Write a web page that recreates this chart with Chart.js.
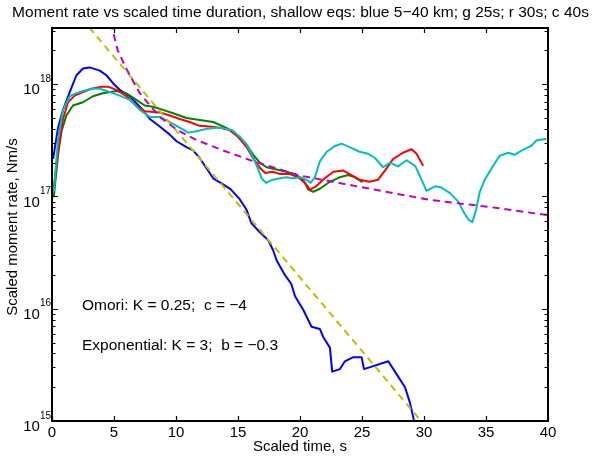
<!DOCTYPE html>
<html lang="en">
<head>
<meta charset="UTF-8" />
<title>Moment rate vs scaled time duration</title>
<script src="https://cdn.jsdelivr.net/npm/chart.js"></script>
<style>
  html, body { margin: 0; padding: 0; background: #fff; }
  #wrap { width: 601px; height: 458px; }
</style>
</head>
<body>
<div id="wrap"><canvas id="chart" width="601" height="458"></canvas></div>
<script>
// blue: 5-40 km
const blueT = [0.1, 0.49, 0.89, 1.43, 1.97, 2.5, 3.04, 3.85, 4.39, 4.92, 5.46, 6.27, 7.08, 7.89, 8.69, 9.5, 10.04, 10.85, 11.38, 11.92, 12.46, 13.0, 13.7, 14.4, 15.15, 15.69, 16.09, 16.76, 17.43, 17.84, 18.11, 18.78, 19.3, 19.6, 20.26, 20.93, 21.6, 21.87, 22.41, 22.6, 23.22, 23.62, 24.3, 24.97, 25.16, 27.12, 27.8, 28.47, 28.87, 29.2, 29.4];
const blueM = [2.2e17, 4.1e17, 5.9e17, 8.5e17, 1.2e18, 1.38e18, 1.41e18, 1.32e18, 1.2e18, 1.02e18, 8.9e17, 7.8e17, 6.3e17, 4.9e17, 4.2e17, 3.55e17, 3.1e17, 2.75e17, 2.57e17, 2.19e17, 1.78e17, 1.45e17, 1.3e17, 1.16e17, 9.4e16, 7.6e16, 5.75e16, 4.8e16, 4.1e16, 3.3e16, 2.7e16, 2.0e16, 1.66e16, 1.29e16, 9.8e15, 6.9e15, 6.6e15, 5.6e15, 4.5e15, 2.75e15, 2.9e15, 3.4e15, 3.7e15, 3.7e15, 2.9e15, 3.4e15, 2.6e15, 2.0e15, 1.45e15, 1.0e15, 8e14];

// green: 25 s
const greenT = [0.15, 0.49, 0.76, 1.16, 1.69, 2.5, 3.3, 4.1, 5.2, 6.0, 6.8, 7.48, 8.15, 8.96, 9.77, 10.85, 11.92, 13.0, 13.8, 14.6, 15.15, 15.69, 16.22, 16.76, 17.3, 18.1, 18.92, 19.59, 20.26, 20.66, 21.07, 21.6, 22.41, 23.2, 23.9, 24.43, 25.0];
const greenM = [1.0e17, 2.35e17, 3.8e17, 5.25e17, 6.45e17, 6.9e17, 7.8e17, 8.3e17, 8.7e17, 8.3e17, 7.25e17, 6.45e17, 6.3e17, 5.9e17, 5.5e17, 5.0e17, 4.8e17, 4.6e17, 4.2e17, 3.8e17, 3.3e17, 2.9e17, 2.35e17, 2.0e17, 1.82e17, 1.74e17, 1.66e17, 1.58e17, 1.41e17, 1.15e17, 1.1e17, 1.17e17, 1.35e17, 1.48e17, 1.55e17, 1.48e17, 1.35e17];

// red: 30 s
const redT = [0.15, 0.49, 0.89, 1.29, 1.83, 2.5, 3.18, 3.99, 4.52, 5.2, 6.0, 6.8, 7.48, 8.7, 9.5, 10.3, 11.1, 11.9, 12.7, 13.5, 14.3, 15.0, 15.7, 16.2, 16.8, 17.2, 17.8, 18.4, 19.2, 19.85, 20.4, 20.8, 21.3, 22.0, 22.7, 23.5, 24.0, 24.8, 25.6, 26.3, 26.85, 27.5, 28.3, 29.0, 29.4, 29.9];
const redM = [1.23e17, 2.5e17, 4.9e17, 6.9e17, 7.9e17, 8.5e17, 9.1e17, 9.5e17, 9.5e17, 8.9e17, 7.8e17, 6.45e17, 5.75e17, 5.6e17, 5.25e17, 4.9e17, 4.6e17, 4.25e17, 4.2e17, 4.1e17, 3.9e17, 3.4e17, 2.75e17, 2.2e17, 1.78e17, 1.62e17, 1.66e17, 1.58e17, 1.58e17, 1.48e17, 1.32e17, 1.15e17, 1.23e17, 1.45e17, 1.66e17, 1.7e17, 1.58e17, 1.41e17, 1.35e17, 1.41e17, 1.7e17, 2.15e17, 2.45e17, 2.63e17, 2.4e17, 1.9e17];

// cyan: 40 s
const cyanT = [0.15, 0.49, 0.89, 1.43, 1.97, 2.5, 3.18, 3.85, 4.66, 5.46, 6.27, 7.08, 7.9, 8.7, 9.5, 10.3, 11.0, 11.65, 12.5, 13.5, 14.5, 15.15, 15.7, 16.2, 16.6, 16.9, 17.25, 17.8, 18.4, 18.9, 19.45, 20.1, 20.5, 20.85, 21.2, 21.6, 22.15, 22.8, 23.35, 24.0, 24.8, 25.5, 26.05, 26.7, 27.25, 27.9, 28.6, 29.3, 29.8, 30.2, 30.9, 31.4, 32.1, 32.8, 33.2, 33.6, 33.9, 34.2, 34.5, 34.9, 35.5, 36.1, 36.8, 37.3, 37.9, 38.6, 39.1, 39.8];
const cyanM = [1.12e17, 3.3e17, 5.9e17, 7.8e17, 8.3e17, 8.7e17, 9.1e17, 9.1e17, 8.5e17, 7.9e17, 7.25e17, 5.9e17, 5.1e17, 5.1e17, 4.6e17, 4.1e17, 3.7e17, 3.8e17, 4.0e17, 4.1e17, 3.9e17, 3.4e17, 2.9e17, 2.25e17, 1.78e17, 1.45e17, 1.32e17, 1.41e17, 1.45e17, 1.48e17, 1.45e17, 1.48e17, 1.41e17, 1.32e17, 1.48e17, 2.05e17, 2.5e17, 2.8e17, 2.95e17, 2.75e17, 2.5e17, 2.4e17, 2.2e17, 1.82e17, 2.0e17, 1.85e17, 2.1e17, 1.86e17, 1.41e17, 1.12e17, 1.23e17, 1.2e17, 1.07e17, 8.9e16, 7.25e16, 6.2e16, 5.9e16, 7.6e16, 1.1e17, 1.41e17, 1.82e17, 2.3e17, 2.45e17, 2.35e17, 2.57e17, 2.8e17, 3.16e17, 3.24e17];

// exponential fit (yellow dashed) - straight on log axis
const expT = [3.0, 30.0];
const expM = [3.2e18, 9.3e14];

// Omori fit (magenta dashed)
const omoriT = [4.6, 4.9, 5.3, 6.03, 7.08, 8.69, 10.1, 11.7, 13.8, 16.0, 19.8, 25.1, 30.5, 35.9, 40.0];
const omoriM = [4.5e18, 3.0e18, 2.0e18, 1.35e18, 8.3e17, 5.1e17, 3.9e17, 3.16e17, 2.57e17, 2.1e17, 1.55e17, 1.2e17, 9.3e16, 7.9e16, 6.8e16];

const xTicks = [0, 5, 10, 15, 20, 25, 30, 35, 40];
const yTickExp = [15, 16, 17, 18];

const titleText = 'Moment rate vs scaled time duration, shallow eqs: blue 5\u221240 km; g 25s; r 30s; c 40s';
const xTitle = 'Scaled time, s';
const yTitle = 'Scaled moment rate, Nm/s';
const notes = ['Omori: K = 0.25;  c = \u22124', 'Exponential: K = 3;  b = \u22120.3'];

const pts = (ts, ms) => ts.map((t, i) => ({ x: t, y: ms[i] }));
const FONT = '"Liberation Sans", Arial, Helvetica, sans-serif';

function line(label, ts, ms, color, order, dash) {
  return {
    label, data: pts(ts, ms), borderColor: color, backgroundColor: color,
    borderWidth: 2, pointRadius: 0, tension: 0, order,
    borderDash: dash || [], borderJoinStyle: 'round', borderCapStyle: dash ? 'butt' : 'round'
  };
}

const frame = {
  id: 'frame',
  afterDraw(chart) {
    const { ctx, chartArea: a, scales: { x, y } } = chart;
    ctx.save();
    ctx.strokeStyle = '#000';
    ctx.lineWidth = 2;
    ctx.strokeRect(a.left, a.top, a.right - a.left, a.bottom - a.top);

    ctx.beginPath();
    xTicks.forEach(v => {
      const px = Math.round(x.getPixelForValue(v)) + 0.5;
      ctx.moveTo(px, a.bottom); ctx.lineTo(px, a.bottom - 5);
      ctx.moveTo(px, a.top); ctx.lineTo(px, a.top + 5);
    });
    for (let e = 15; e <= 18; e++) {
      for (let m = 1; m <= 9; m++) {
        const v = m * Math.pow(10, e);
        if (v > y.max) break;
        const py = Math.round(y.getPixelForValue(v)) + 0.5;
        const len = m === 1 ? 6 : 3.5;
        ctx.moveTo(a.left, py); ctx.lineTo(a.left + len, py);
        ctx.moveTo(a.right, py); ctx.lineTo(a.right - len, py);
      }
    }
    ctx.lineWidth = 1.2;
    ctx.stroke();

    ctx.fillStyle = '#000';
    ctx.textBaseline = 'middle';

    // x tick labels
    ctx.font = '15px ' + FONT;
    ctx.textAlign = 'center';
    xTicks.forEach(v => ctx.fillText(String(v), x.getPixelForValue(v), a.bottom + 12));

    // y tick labels 10^n
    yTickExp.forEach(e => {
      const py = y.getPixelForValue(Math.pow(10, e));
      ctx.font = '10px ' + FONT;
      ctx.textAlign = 'left';
      const ew = ctx.measureText(String(e)).width;
      const ex = a.left - 1 - ew;
      ctx.fillText(String(e), ex, py - 5);
      ctx.font = '15px ' + FONT;
      ctx.textAlign = 'right';
      ctx.fillText('10', ex, py + 6);
    });

    // titles
    ctx.font = '15.5px ' + FONT;
    ctx.textAlign = 'center';
    ctx.fillText(titleText, 300.5, 13);
    ctx.font = '15px ' + FONT;
    ctx.fillText(xTitle, (a.left + a.right) / 2, 447);
    ctx.save();
    ctx.translate(13, 227);
    ctx.rotate(-Math.PI / 2);
    ctx.fillText(yTitle, 0, 0);
    ctx.restore();

    // annotations
    ctx.font = '15.5px ' + FONT;
    ctx.textAlign = 'left';
    ctx.fillText(notes[0], 82, 306);
    ctx.fillText(notes[1], 82, 346);
    ctx.restore();
  }
};

new Chart(document.getElementById('chart'), {
  type: 'line',
  data: {
    datasets: [
      line('5-40 km', blueT, blueM, '#0000ff', 6),
      line('25s', greenT, greenM, '#008000', 5),
      line('30s', redT, redM, '#ff0000', 4),
      line('40s', cyanT, cyanM, '#00bfbf', 3),
      line('Exponential', expT, expM, '#bfbf00', 2, [7, 5]),
      line('Omori', omoriT, omoriM, '#bf00bf', 1, [7, 5])
    ]
  },
  options: {
    responsive: false,
    animation: false,
    layout: { padding: { left: 52, right: 53, top: 28, bottom: 37 } },
    plugins: { legend: { display: false }, tooltip: { enabled: false }, title: { display: false } },
    scales: {
      x: { type: 'linear', min: 0, max: 40, display: false },
      y: { type: 'logarithmic', min: 1e15, max: Math.pow(10, 18.5), display: false }
    }
  },
  plugins: [frame]
});
</script>
</body>
</html>
